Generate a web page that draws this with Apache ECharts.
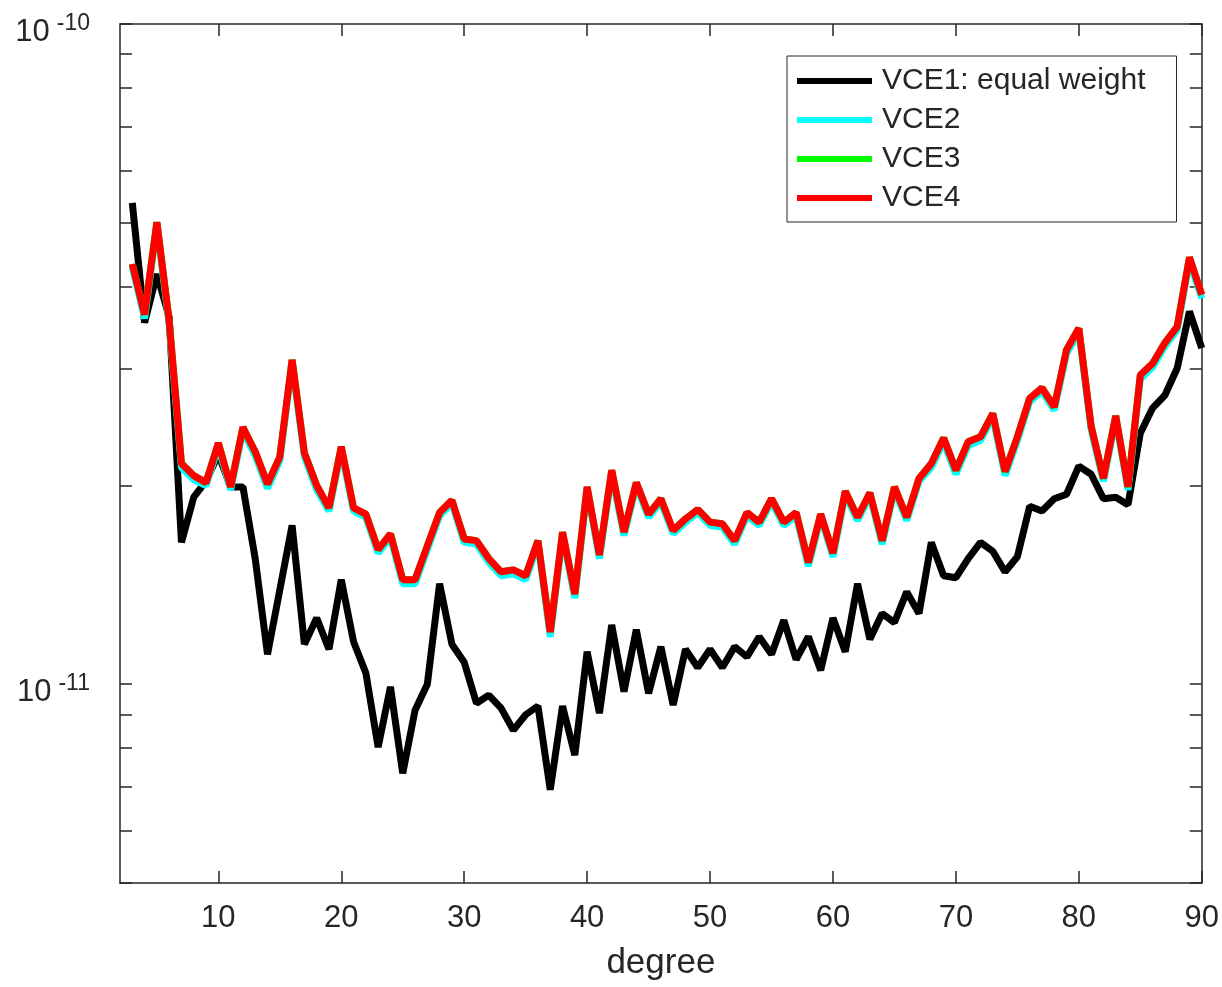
<!DOCTYPE html>
<html><head><meta charset="utf-8">
<script src="https://cdn.jsdelivr.net/npm/echarts@6/dist/echarts.min.js"></script>
<style>html,body{margin:0;padding:0;background:#fff}#c{width:1222px;height:987px}</style>
</head><body><div id="c"></div>
<script>
// spherical harmonic degree
const degrees = [3,4,5,6,7,8,9,10,11,12,13,14,15,16,17,18,19,20,21,22,23,24,25,26,27,28,29,30,
  31,32,33,34,35,36,37,38,39,40,41,42,43,44,45,46,47,48,49,50,51,52,53,54,55,56,57,58,59,60,
  61,62,63,64,65,66,67,68,69,70,71,72,73,74,75,76,77,78,79,80,81,82,83,84,85,86,87,88,89,90];
// values in units of 1e-11
const vce1 = [5.36,3.53,4.18,3.60,1.64,1.92,2.03,2.23,1.99,1.99,1.55,1.11,1.39,1.74,1.15,1.26,1.13,1.44,1.16,1.04,
  0.803,0.991,0.733,0.913,1.00,1.42,1.15,1.08,0.936,0.963,0.920,0.852,0.899,0.927,0.692,0.927,0.781,1.12,0.904,1.23,
  0.975,1.21,0.969,1.14,0.930,1.13,1.06,1.13,1.06,1.14,1.10,1.18,1.11,1.25,1.09,1.18,1.05,1.26,1.12,1.42,
  1.17,1.28,1.24,1.38,1.28,1.64,1.46,1.45,1.55,1.64,1.59,1.48,1.56,1.86,1.83,1.91,1.94,2.14,2.08,1.91,
  1.92,1.87,2.40,2.62,2.74,3.01,3.67,3.23];
const vce2 = [4.28,3.58,4.95,3.51,2.13,2.04,2.00,2.29,1.97,2.42,2.22,1.98,2.18,3.06,2.21,1.97,1.83,2.26,1.83,1.79,
  1.58,1.67,1.42,1.42,1.60,1.80,1.88,1.64,1.63,1.53,1.46,1.47,1.44,1.63,1.18,1.68,1.35,1.97,1.55,2.08,
  1.68,2.00,1.79,1.89,1.69,1.76,1.82,1.74,1.73,1.63,1.80,1.74,1.89,1.74,1.80,1.51,1.79,1.56,1.94,1.77,
  1.93,1.63,1.97,1.77,2.03,2.13,2.33,2.08,2.30,2.34,2.54,2.07,2.34,2.68,2.78,2.60,3.17,3.42,2.43,2.03,
  2.52,1.97,2.90,3.02,3.25,3.44,4.37,3.84];
const vce3 = [4.33,3.63,5.01,3.55,2.16,2.07,2.02,2.32,1.99,2.45,2.25,2.01,2.21,3.10,2.24,2.00,1.85,2.29,1.85,1.81,
  1.60,1.69,1.44,1.44,1.62,1.82,1.90,1.66,1.65,1.55,1.48,1.49,1.46,1.65,1.20,1.70,1.37,1.99,1.57,2.11,
  1.70,2.02,1.81,1.91,1.71,1.78,1.84,1.76,1.75,1.65,1.82,1.76,1.91,1.76,1.82,1.53,1.81,1.58,1.96,1.79,
  1.95,1.65,1.99,1.79,2.05,2.16,2.36,2.11,2.33,2.37,2.57,2.10,2.37,2.71,2.81,2.63,3.21,3.46,2.46,2.05,
  2.55,1.99,2.94,3.06,3.29,3.48,4.43,3.89];
const vce4 = [4.33,3.63,5.01,3.55,2.16,2.07,2.02,2.32,1.99,2.45,2.25,2.01,2.21,3.10,2.24,2.00,1.85,2.29,1.85,1.81,
  1.60,1.69,1.44,1.44,1.62,1.82,1.90,1.66,1.65,1.55,1.48,1.49,1.46,1.65,1.20,1.70,1.37,1.99,1.57,2.11,
  1.70,2.02,1.81,1.91,1.71,1.78,1.84,1.76,1.75,1.65,1.82,1.76,1.91,1.76,1.82,1.53,1.81,1.58,1.96,1.79,
  1.95,1.65,1.99,1.79,2.05,2.16,2.36,2.11,2.33,2.37,2.57,2.10,2.37,2.71,2.81,2.63,3.21,3.46,2.46,2.05,
  2.55,1.99,2.94,3.06,3.29,3.48,4.43,3.89];
const UNIT = 1e-11;
const seriesNames = ['VCE1: equal weight','VCE2','VCE3','VCE4'];
const seriesColors = ['#000000','#00ffff','#00ff00','#ff0000'];
const xTicks = [10,20,30,40,50,60,70,80,90];
const yTicks = [5e-12,6e-12,7e-12,8e-12,9e-12,1e-11,2e-11,3e-11,4e-11,5e-11,6e-11,7e-11,8e-11,9e-11,1e-10];
const yLabels = [1e-11,1e-10];

const ink = '#262626';
const font = 'Liberation Sans, Arial, Helvetica, sans-serif';
const chart = echarts.init(document.getElementById('c'));
const all = [vce1,vce2,vce3,vce4];
function pairs(arr){ return degrees.map((d,i)=>[d, arr[i]*UNIT]); }

const xBase = {
  type:'value', min:2, max:90,
  axisLine:{show:true, onZero:false, lineStyle:{color:ink, width:1.5}},
  axisTick:{show:true, inside:true, length:12, customValues:xTicks, lineStyle:{color:ink, width:1.5}},
  splitLine:{show:false}
};
const yBase = {
  type:'log', logBase:10, min:5e-12, max:1e-10,
  axisLine:{show:true, lineStyle:{color:ink, width:1.5}},
  axisTick:{show:true, inside:true, length:12, customValues:yTicks, lineStyle:{color:ink, width:1.5}},
  minorTick:{show:false},
  splitLine:{show:false}
};

chart.setOption({
  animation:false,
  backgroundColor:'#fff',
  grid:{left:120, right:17, top:24, bottom:104, containLabel:false},
  xAxis:[
    Object.assign({}, xBase, {position:'bottom',
      name:'degree', nameLocation:'middle', nameGap:63,
      nameTextStyle:{color:ink, fontSize:35, fontFamily:font},
      axisLabel:{show:true, customValues:xTicks, margin:20, color:ink, fontSize:31, fontFamily:font}}),
    Object.assign({}, xBase, {position:'top', axisLabel:{show:false}})
  ],
  yAxis:[
    Object.assign({}, yBase, {position:'left',
      axisLabel:{show:true, customValues:yLabels, margin:30, padding:[18,0,0,0],
        formatter:function(v){ const e=Math.round(Math.log10(v)); return '{b|10}{s|'+e+'}'; },
        rich:{
          b:{fontSize:31, lineHeight:30, color:ink, fontFamily:font, verticalAlign:'bottom'},
          s:{fontSize:23, lineHeight:22, color:ink, fontFamily:font, verticalAlign:'bottom', padding:[0,0,13,7]}
        }
      }}),
    Object.assign({}, yBase, {position:'right', axisLabel:{show:false}})
  ],
  legend:{
    orient:'vertical', left:787, top:56,
    padding:[9,31,8,10], itemGap:7,
    itemWidth:75, itemHeight:6, icon:'rect',
    borderColor:ink, borderWidth:1, backgroundColor:'#fff',
    textStyle:{color:ink, fontSize:30, lineHeight:32, fontFamily:font, padding:[0,0,0,5]},
    data:seriesNames
  },
  series: all.map((arr,i)=>({
    name:seriesNames[i], type:'line', data:pairs(arr),
    xAxisIndex:0, yAxisIndex:0,
    showSymbol:false, symbol:'none',
    lineStyle:{color:seriesColors[i], width:7},
    itemStyle:{color:seriesColors[i]},
    emphasis:{disabled:true}, z:2+i
  }))
});
</script></body></html>
